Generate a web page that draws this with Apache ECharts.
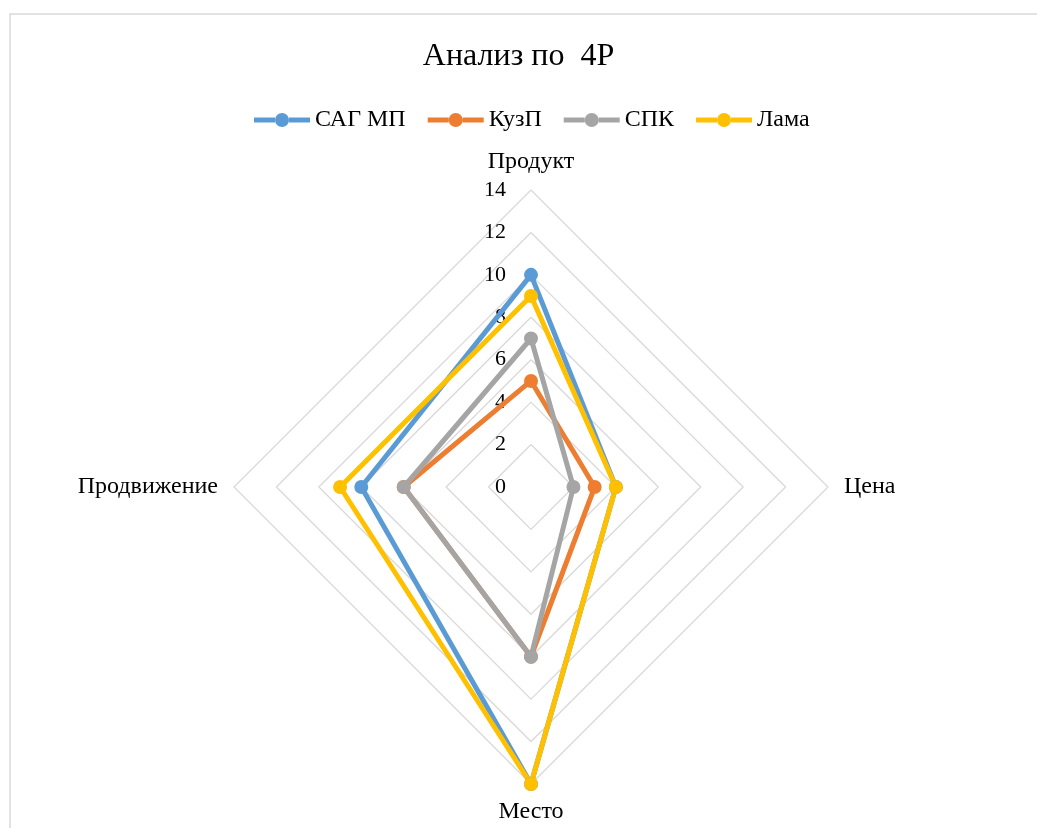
<!DOCTYPE html>
<html>
<head>
<meta charset="utf-8">
<script src="https://cdn.jsdelivr.net/npm/echarts@6/dist/echarts.min.js"></script>
<style>
  html, body { margin: 0; padding: 0; background: #fff; }
  #chart { width: 1037px; height: 828px; }
</style>
</head>
<body>
<div id="chart"></div>
<script>
// Axes of the 4P radar, clockwise from the top
const categories = ['Продукт', 'Цена', 'Место', 'Продвижение'];
const seriesNames = ['САГ МП', 'КузП', 'СПК', 'Лама'];
// Scores per axis, same order as categories
const sagMp = [10, 4, 14, 8];
const kuzP = [5, 3, 8, 6];
const spk = [7, 2, 8, 6];
const lama = [9, 4, 14, 9];
const tickLabels = ['0', '2', '4', '6', '8', '10', '12', '14'];
const axisMax = 14;
const tickStep = 2;

const colors = ['#5B9BD5', '#ED7D31', '#A5A5A5', '#FFC000'];
const values = [sagMp, kuzP, spk, lama];
const serif = '"Liberation Serif", "DejaVu Serif", serif';

// ECharts lays radar indicators out counter-clockwise; reorder so they run clockwise
const order = categories.map((_, i) => (categories.length - i) % categories.length);

// legend marker: line with a dot in the middle
const lineDotIcon = 'path://M0,4.5H21V9.5H0Z M35,4.5H56V9.5H35Z M21,7A7,7 0 1 1 35,7A7,7 0 1 1 21,7Z';

const chart = echarts.init(document.getElementById('chart'), null, { renderer: 'canvas' });

const cx = 531, cy = 487, r = 297;

chart.setOption({
  animation: false,
  backgroundColor: '#fff',
  title: {
    text: 'Анализ по  4P',
    left: 'center',
    top: 36,
    textStyle: { fontFamily: serif, fontSize: 32, fontWeight: 'normal', color: '#000' }
  },
  legend: {
    data: seriesNames.map(name => ({ name, icon: lineDotIcon })),
    top: 103,
    left: 249,
    itemWidth: 56,
    itemHeight: 14,
    itemGap: 22,
    textStyle: { fontFamily: serif, fontSize: 24, color: '#000' }
  },
  graphic: [{
    type: 'rect',
    shape: { x: 10, y: 14, width: 1100, height: 900 },
    style: { fill: 'none', stroke: '#d9d9d9', lineWidth: 1.5 },
    silent: true,
    z: -10
  }],
  // value scale drawn along the upward (Продукт) spoke
  grid: { left: cx, top: cy - r, width: 1, height: r, containLabel: false },
  xAxis: { type: 'value', show: false },
  yAxis: {
    type: 'value',
    min: 0,
    max: axisMax,
    interval: tickStep,
    axisLine: { show: false },
    axisTick: { show: false },
    splitLine: { show: false },
    axisLabel: {
      margin: 25,
      fontFamily: serif,
      fontSize: 22,
      color: '#000',
      formatter: (v) => tickLabels[Math.round(v / tickStep)] ?? ''
    }
  },
  radar: {
    center: [cx, cy],
    radius: r,
    startAngle: 90,
    shape: 'polygon',
    splitNumber: axisMax / tickStep,
    indicator: order.map(i => ({ name: categories[i], min: 0, max: axisMax })),
    axisName: { fontFamily: serif, fontSize: 24, color: '#000' },
    nameGap: 16,
    axisLine: { show: false },
    axisTick: { show: false },
    axisLabel: { show: false },
    splitArea: { show: false },
    splitLine: { lineStyle: { color: '#d9d9d9', width: 1.3 } }
  },
  series: [{
    type: 'radar',
    symbol: 'circle',
    symbolSize: 14,
    data: seriesNames.map((name, s) => ({
      name,
      value: order.map(i => values[s][i]),
      itemStyle: { color: colors[s] },
      lineStyle: { color: colors[s], width: 5 }
    }))
  }],
  color: colors
});
</script>
</body>
</html>
